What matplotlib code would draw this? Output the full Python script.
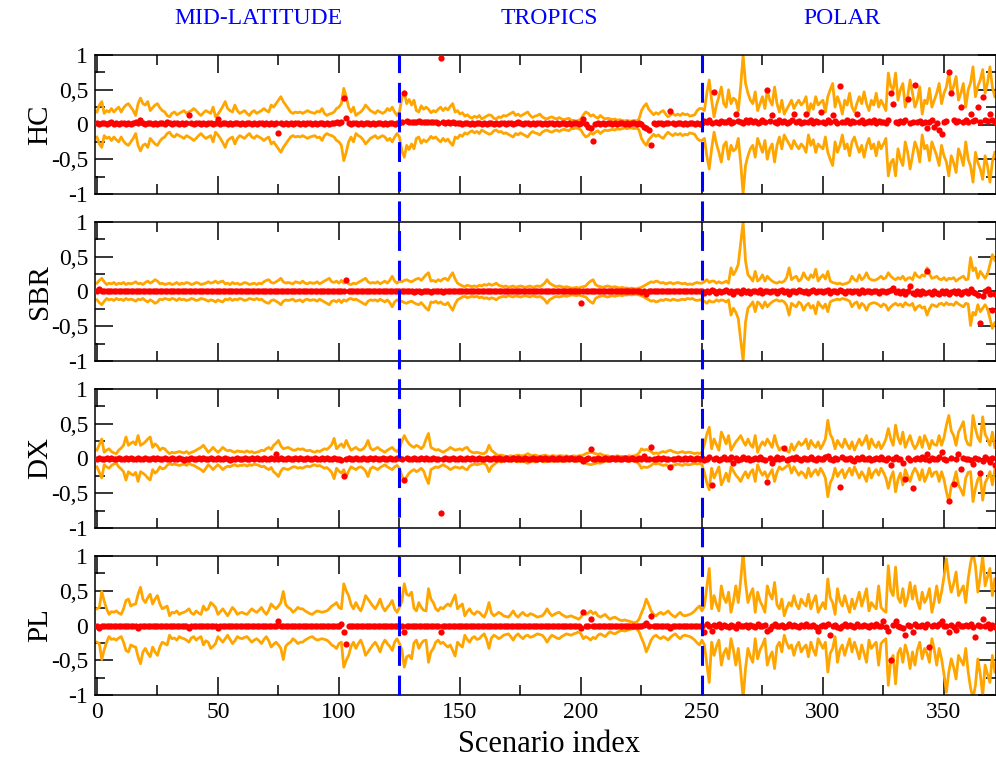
import matplotlib
matplotlib.use("Agg")
import matplotlib.pyplot as plt
import numpy as np
from matplotlib.lines import Line2D
from matplotlib.transforms import blended_transform_factory
from matplotlib.ticker import MultipleLocator, FixedLocator

plt.rcParams['font.family'] = ['Liberation Serif', 'DejaVu Serif']

# Region names, where their labels sit, and the indices that separate them
REGIONS = ["MID-LATITUDE", "TROPICS", "POLAR"]
REGION_LABEL_X = [66.5, 187, 308]
REGION_BOUNDS = [125, 250]

PANELS = ["HC", "SBR", "DX", "PL"]

# Spread (upper envelope, lower envelope is its mirror), in hundredths
HC_SPREAD = [
    18,28,33,16,20,18,23,18,22,25, 18,24,28,30,25,20,13,30,38,30,
    28,33,20,24,28,30,24,20,18,13, 11,16,18,14,16,18,20,16,18,20,
    23,20,16,13,17,20,18,16,25,11, 15,20,26,33,23,20,18,28,20,16,
    18,20,16,13,18,20,16,18,20,23, 20,18,28,25,30,35,40,33,28,23,
    18,16,18,17,18,16,18,20,18,17, 16,19,18,23,16,13,15,16,18,23,
    25,30,52,40,25,18,25,13,16,18, 22,28,24,20,18,16,20,18,16,18,
    23,20,25,18,13,
    18,38,47,30,36,
    28,35,20,18,27,22,25,22,17,20, 18,22,25,20,24,21,26,30,18,20,
    15,17,12,14,11,9,12,10,13,8, 10,12,14,13,9,8,11,10,13,12,
    14,16,18,13,15,12,14,16,18,13, 10,12,13,15,11,9,8,10,11,9,
    8,10,8,7,8,9,6,6,5,6, 8,14,18,16,12,14,11,9,13,10,
    8,9,8,7,8,6,7,6,5,6, 5,5,6,5,8,20,26,30,22,18,
    14,17,15,18,20,15,11,14,16,13, 15,13,16,14,15,12,13,14,20,23,
    23,20,45,64,35,11,28,40,54,30, 25,50,30,38,35,20,55,100,59,45,
    35,30,47,20,30,40,23,50,35,28, 54,30,18,35,15,22,28,35,23,30,
    35,28,32,40,15,30,22,40,28,32, 35,18,40,50,59,25,40,30,15,35,
    28,45,25,18,30,40,30,47,30,20, 35,28,45,25,35,28,20,74,55,50,
    74,35,50,59,25,40,64,45,25,35, 54,15,35,30,52,25,35,45,59,30,
    45,54,74,45,55,69,35,45,59,25, 50,60,83,40,55,64,79,45,60,83,
    54,40,
]

SBR_SPREAD = [
    12,16,19,14,10,12,11,13,10,12, 11,13,10,12,11,12,14,11,12,10,
    13,15,12,14,17,15,11,12,10,11, 12,10,11,13,10,12,11,13,12,10,
    11,13,12,10,11,12,14,12,13,15, 12,14,15,11,12,10,13,11,12,10,
    11,13,12,10,11,12,10,12,11,14, 16,17,13,12,14,16,19,14,12,13,
    12,11,14,13,12,15,12,11,13,12, 12,14,11,13,15,17,19,14,13,15,
    12,16,12,14,11,10,12,11,13,15, 17,19,14,12,13,12,14,11,13,15,
    12,16,22,15,12,
    15,14,16,17,15,
    14,16,18,19,16,20,24,27,15,16, 14,17,15,18,19,16,22,27,18,12,
    10,8,7,9,8,7,8,7,9,8, 10,9,11,9,10,12,9,8,7,8,
    6,7,8,6,7,8,7,6,7,8, 6,7,8,7,9,12,17,12,10,8,
    7,8,7,6,7,6,5,5,6,5, 6,7,8,12,15,17,10,8,7,6,
    7,8,7,6,7,6,5,6,5,5, 4,5,4,4,5,6,8,10,12,14,
    13,15,14,12,13,11,12,13,11,12, 13,12,11,12,10,11,10,12,13,12,
    12,14,17,13,15,15,12,14,12,13, 15,12,34,24,30,39,70,100,44,24,
    20,15,29,15,18,24,15,22,18,15, 13,12,14,13,15,20,34,17,20,22,
    15,18,27,20,17,24,20,32,15,20, 24,18,29,15,13,12,11,12,10,11,
    12,14,22,17,15,24,17,20,27,19, 17,16,17,19,22,18,20,27,22,19,
    17,20,18,22,16,19,20,17,27,22, 20,24,22,34,25,19,20,22,18,17,
    20,16,19,18,20,15,18,20,22,17, 18,49,30,34,19,29,24,19,25,39,
    53,45,
]

DX_SPREAD = [
    12,20,28,9,12,14,10,8,7,12, 15,19,31,19,22,24,20,33,19,21,
    24,28,31,16,21,18,12,15,14,10, 7,9,8,9,10,9,8,10,7,9,
    10,12,14,16,19,14,9,12,16,12, 9,12,16,13,11,12,10,9,11,10,
    10,9,11,9,10,8,9,10,12,11, 14,16,13,19,22,26,18,14,15,16,
    14,12,12,14,13,14,12,11,12,10, 9,11,10,12,14,13,16,20,29,14,
    18,21,16,26,18,12,14,16,13,12, 14,18,26,15,12,14,16,13,11,9,
    12,14,16,12,10,
    14,25,33,26,21,
    18,16,19,17,14,18,28,36,16,14, 12,13,11,9,11,13,16,14,12,13,
    14,12,15,16,11,9,8,9,8,7, 7,10,19,12,9,6,4,5,4,3,
    3,4,3,4,5,4,4,5,7,5, 4,5,4,3,4,5,4,3,4,4,
    3,4,4,3,4,3,3,4,3,4, 4,5,7,8,9,8,7,6,7,5,
    4,4,3,3,3,4,3,3,3,3, 4,3,4,5,8,14,12,13,12,10,
    7,8,7,9,10,9,11,12,10,9, 8,9,10,8,9,9,8,7,8,7,
    9,20,35,45,14,28,20,12,38,30, 21,33,12,18,24,28,33,25,19,28,
    20,16,33,9,18,24,19,28,22,16, 33,20,12,16,14,11,9,21,12,18,
    24,19,22,28,14,26,20,16,24,14, 20,28,55,35,28,14,26,20,16,28,
    20,14,24,12,20,28,19,25,33,14, 28,20,16,24,14,20,28,43,28,19,
    48,30,21,38,16,25,33,21,14,20, 31,16,33,25,14,26,20,19,33,19,
    30,48,62,40,33,19,38,45,53,28, 20,19,62,43,30,24,60,35,28,19,
    38,16,
]

PL_SPREAD = [
    24,26,49,35,24,16,20,19,21,18, 16,24,36,38,28,30,31,45,55,38,
    33,40,45,31,38,43,31,24,26,28, 14,19,18,21,16,18,19,21,24,18,
    16,21,18,16,28,22,24,33,30,26, 16,20,24,19,14,20,26,22,16,18,
    19,17,16,20,24,21,19,22,26,20, 16,22,31,27,24,28,33,49,30,26,
    24,19,22,26,24,24,21,19,17,16, 19,21,20,19,20,21,24,28,30,33,
    26,24,60,50,43,30,24,33,26,21, 30,43,38,33,28,24,30,38,27,21,
    26,30,36,24,19,
    26,35,60,45,43,
    48,25,21,33,26,22,21,53,38,33, 24,21,26,24,28,31,28,36,44,24,
    28,31,14,20,24,18,16,20,19,15, 12,20,33,18,14,16,19,17,14,13,
    12,16,21,15,12,16,19,15,14,17, 16,14,12,13,14,18,24,18,14,16,
    18,19,16,14,12,13,14,12,11,9, 12,19,16,18,21,17,19,14,12,14,
    16,12,9,11,12,10,8,7,8,7, 6,5,4,5,9,18,26,38,30,21,
    16,14,17,19,16,18,21,17,14,12, 16,19,15,14,15,16,18,21,25,28,
    21,28,55,82,24,43,30,21,57,40, 33,48,19,35,57,33,65,105,62,33,
    45,53,19,48,35,28,19,57,45,38, 62,30,24,38,14,25,33,28,43,30,
    24,38,32,28,45,24,35,43,19,26, 33,24,67,40,33,16,53,35,28,43,
    30,19,38,24,35,48,28,40,53,21, 33,28,24,57,26,22,19,86,50,43,
    84,40,33,53,28,40,62,38,57,35, 24,48,33,40,53,19,35,57,33,48,
    70,96,67,48,60,77,43,50,57,33, 67,90,105,86,48,70,101,57,70,82,
    43,67,
]

# Mean difference for each scenario (red dots), in hundredths
HC_BIAS = [
    2,1,2,2,1,2,3,1,2,1, 2,2,1,2,1,2,3,2,7,2,
    1,2,2,1,2,1,2,2,1,3, 2,1,2,2,1,2,1,2,14,2,
    1,2,2,1,2,1,2,2,1,2, 8,1,2,2,1,2,1,2,2,1,
    2,1,2,2,1,2,1,2,2,1, 2,1,2,1,2,-12,2,1,2,1,
    2,1,2,2,1,2,1,2,2,1, 2,1,2,2,1,2,1,2,2,3,
    2,3,38,10,2,1,2,2,1,2, 1,2,2,1,2,1,2,2,1,2,
    1,2,2,1,2,
    2,3,45,5,3,
    3,4,3,5,4,3,4,3,4,3, 3,2,95,3,2,3,2,3,2,2,
    2,1,2,2,1,2,1,2,2,1, 2,1,2,2,1,2,1,2,2,1,
    2,2,1,2,3,2,1,2,2,1, 2,1,2,2,1,2,1,2,2,1,
    2,1,2,2,1,2,1,2,2,1, 2,8,1,-3,-5,-24,1,2,1,2,
    1,2,2,1,2,1,2,2,1,2, 1,2,2,1,2,1,-4,-5,-8,-30,
    2,1,2,2,1,2,2,19,2,1, 2,2,1,2,1,2,2,1,2,1,
    2,5,3,6,2,47,4,2,5,3, 3,6,2,4,15,5,3,2,6,4,
    7,3,5,2,4,6,3,49,5,13, 4,2,6,3,5,2,4,6,15,3,
    5,2,4,15,3,6,2,5,3,18, 4,2,6,3,13,5,2,56,4,3,
    7,2,5,4,15,3,6,2,4,5, 3,6,2,5,3,4,2,6,45,30,
    4,2,5,3,6,37,2,4,57,3, 5,2,4,-5,3,6,-3,2,-8,-13,
    4,5,75,45,6,3,5,25,4,7, 3,15,5,6,25,4,40,7,5,15,
    6,4,
]

SBR_BIAS = [
    1,3,1,0,1,1,0,1,1,0, 1,1,0,1,1,0,1,1,0,1,
    1,0,1,1,0,1,0,1,1,0, 1,1,0,1,0,1,1,0,1,1,
    0,1,1,0,1,1,0,1,0,1, 1,0,1,1,0,1,1,0,1,0,
    1,1,0,1,1,0,1,0,1,1, 0,1,1,0,1,1,0,1,1,0,
    1,0,1,1,0,1,1,0,1,1, 0,1,1,0,1,0,1,1,0,1,
    1,0,1,17,1,0,1,1,0,1, 1,0,1,1,0,1,1,0,1,1,
    0,1,1,0,1,
    1,0,1,1,0,
    1,-1,0,1,-1,0,1,0,-1,1, 0,1,0,-1,1,0,1,0,1,0,
    1,0,1,1,0,1,0,1,1,0, 1,0,1,0,1,1,0,1,0,1,
    1,0,1,1,0,1,0,1,1,0, 1,1,0,1,0,1,1,0,1,0,
    1,0,1,1,0,1,0,1,1,0, -17,1,0,1,1,0,1,0,1,1,
    0,1,0,1,1,0,1,0,1,0, 1,0,1,0,1,-1,0,-3,1,0,
    1,0,1,1,0,1,0,1,1,0, 1,0,1,1,0,1,0,1,0,1,
    0,-2,1,-1,2,0,-2,1,-1,0, 2,-1,0,-3,1,0,-2,2,-1,0,
    -2,1,0,-1,2,-2,0,1,-1,0, 1,-2,0,2,-1,0,-3,1,0,-1,
    2,0,-1,1,-2,0,2,-1,0,1, -1,0,2,-2,1,0,-1,2,0,-2,
    1,0,-1,1,0,-2,2,-1,0,1, -1,1,0,-2,1,0,-1,0,2,5,
    -1,0,-2,1,-3,0,8,-2,-4,1, -3,0,-2,30,-1,-3,0,-2,-4,1,
    -2,0,-3,-1,1,-2,0,-3,-1,0, -2,3,-1,-2,-5,-46,-7,0,3,-4,
    -27,-3,
]

DX_BIAS = [
    0,1,0,0,1,0,1,0,0,1, 0,0,1,0,1,0,0,1,0,0,
    1,0,0,1,0,1,0,0,1,0, 0,1,0,0,1,0,-2,0,0,1,
    0,0,1,0,1,0,0,1,0,0, 1,0,0,1,0,-2,0,0,1,0,
    0,1,0,0,1,0,1,0,0,1, 0,0,1,0,7,0,1,0,0,1,
    0,0,1,0,1,0,0,1,0,0, 1,0,0,1,0,1,0,0,1,0,
    0,-2,-25,0,1,0,0,1,0,0, 1,0,0,1,0,1,0,0,1,0,
    0,1,0,0,1,
    1,0,-31,1,0,
    0,1,0,0,1,0,1,0,0,1, 0,0,-79,0,1,0,0,1,0,0,
    1,0,0,1,0,1,0,0,1,0, 0,1,0,0,1,0,1,0,0,1,
    0,0,1,0,1,0,0,1,0,0, 1,0,0,1,0,1,0,0,1,0,
    0,1,0,0,1,0,1,0,0,1, 0,-4,0,1,13,0,0,1,0,0,
    1,0,0,1,0,1,0,0,1,0, 0,1,0,0,1,0,4,0,0,16,
    0,0,1,0,1,0,0,-12,0,0, 1,0,0,1,0,1,0,0,1,0,
    1,-2,0,2,-38,-1,1,-2,0,2, -1,0,2,-6,1,-2,0,2,-1,1,
    -2,0,1,-1,2,0,-2,-34,1,-6, 0,2,-1,1,15,-2,0,1,-1,2,
    0,-2,1,0,-1,2,0,-2,1,0, -1,2,3,0,-2,1,0,-41,2,-1,
    0,1,-2,-3,1,0,2,-1,0,1, -2,0,1,-1,2,0,-2,1,-9,0,
    2,-1,0,-6,-29,1,-2,-42,0,1, -1,2,0,7,-2,1,0,-1,2,9,
    0,-2,-61,1,-37,0,6,-15,1,-1, 0,-2,-8,1,0,-21,-4,2,0,-5,
    1,-10,
]

PL_BIAS = [
    0,-4,-1,0,-1,0,-1,0,0,-1, 0,-1,0,0,-1,0,-1,-3,-1,0,
    -1,0,0,-1,0,-1,0,0,-1,0, -1,0,-1,0,0,-1,0,-1,-4,0,
    0,-1,0,-1,0,0,-1,0,-1,0, -3,0,-1,0,0,-1,0,-1,0,0,
    -1,0,-1,0,0,-1,0,-1,0,0, -1,0,0,-1,0,7,-1,0,-1,0,
    0,-1,0,-1,0,0,-1,0,-1,0, -1,0,0,-1,0,-1,0,0,-1,0,
    0,2,-9,-26,0,-1,0,-1,0,0, -1,0,-1,0,0,-1,0,-1,0,0,
    -1,0,0,-1,0,
    0,-1,-9,0,-1,
    0,0,-1,0,-1,0,0,-1,0,-1, 0,0,-9,0,-1,0,-1,0,0,-1,
    0,-1,0,0,-1,0,-1,0,0,-1, 0,-1,0,-1,0,0,-1,0,-1,0,
    0,-1,0,0,-1,0,-1,0,0,-1, 0,0,-1,0,-1,0,0,-1,0,-1,
    0,-1,0,0,-1,0,-1,0,0,-1, -3,20,0,-1,9,0,-1,0,0,-1,
    0,-1,0,0,-1,0,-1,0,0,-1, 0,0,-1,0,-1,0,1,4,0,13,
    0,-1,0,0,-1,0,-1,-4,0,-1, 0,-1,0,0,-1,0,-1,0,0,-1,
    0,-9,2,-1,-8,1,0,2,-2,1, 0,-2,1,0,-4,2,-1,0,1,-2,
    1,0,-2,2,0,-1,1,-8,-5,0, 2,-1,0,1,-2,0,2,-1,1,0,
    -2,1,0,2,-1,0,1,-2,-8,0, 1,-1,2,-13,0,1,-2,-3,0,2,
    -1,1,0,-2,2,0,-1,1,0,-2, 1,0,2,-1,0,7,-2,-8,-50,1,
    7,0,-2,-3,-13,1,0,-9,2,-1, 0,1,-2,2,-31,0,1,-1,2,6,
    -1,0,-9,1,-2,-7,2,0,-1,1, 0,2,-2,-16,1,-1,10,0,2,-3,
    1,-2,
]

SPREADS = [HC_SPREAD, SBR_SPREAD, DX_SPREAD, PL_SPREAD]
BIASES = [HC_BIAS, SBR_BIAS, DX_BIAS, PL_BIAS]

Y_TICKS = [-1, -0.5, 0, 0.5, 1]
Y_TICK_LABELS = ["-1", "-0,5", "0", "0,5", "1"]
X_TICKS = [0, 50, 100, 150, 200, 250, 300, 350]

for s, b in zip(SPREADS, BIASES):
    assert len(s) == 372 and len(b) == 372, (len(s), len(b))

W, H = 996, 760
fig = plt.figure(figsize=(W / 100, H / 100), dpi=100)

ax_left, ax_right = 95, 996
ax_tops = [55, 222, 389, 556]
ax_h = 139

axes = []
for i, name in enumerate(PANELS):
    top = ax_tops[i]
    ax = fig.add_axes([ax_left / W, 1 - (top + ax_h) / H,
                       (ax_right - ax_left) / W, ax_h / H])
    axes.append(ax)
    spread = np.array(SPREADS[i]) / 100.0
    bias = np.array(BIASES[i]) / 100.0
    idx = np.arange(len(spread))
    ax.plot(idx, spread, color="orange", lw=2.0, zorder=2)
    ax.plot(idx, -spread, color="orange", lw=2.0, zorder=2)
    ax.plot(idx, bias, "o", color="red", ms=4.5, mec="none", zorder=3)

    ax.set_xlim(-0.8, 371.5)
    ax.set_ylim(-1, 1)
    ax.set_yticks(Y_TICKS)
    ax.set_yticklabels(Y_TICK_LABELS)
    ax.yaxis.set_minor_locator(FixedLocator([-0.75, -0.25, 0.25, 0.75]))
    ax.set_xticks(X_TICKS)
    ax.xaxis.set_minor_locator(MultipleLocator(25))
    ax.tick_params(which="both", direction="in", top=True, right=True,
                   width=1.1, labelsize=17, pad=5)
    ax.tick_params(which="major", length=13)
    ax.tick_params(which="minor", length=7)
    if i < len(PANELS) - 1:
        ax.tick_params(labelbottom=False)
    for sp in ax.spines.values():
        sp.set_linewidth(1.1)
    fig.text(40 / W, 1 - (top + ax_h / 2) / H, name, rotation=90,
             ha="center", va="center", fontsize=21)

fig.text(549 / W, 1 - 745 / H, "Scenario index", ha="center", va="center",
         fontsize=22)

# Region names above the top panel
title_tr = blended_transform_factory(axes[0].transData, fig.transFigure)
for xc, label in zip(REGION_LABEL_X, REGIONS):
    fig.text(xc, 1 - 18 / H, label, transform=title_tr, ha="center",
             va="center", fontsize=17, color="blue")

# Dashed region separators running through all panels
sep_tr = blended_transform_factory(axes[0].transData, fig.transFigure)
y_top = 1 - ax_tops[0] / H
y_bot = 1 - (ax_tops[-1] + ax_h) / H
for xb in REGION_BOUNDS:
    fig.add_artist(Line2D([xb, xb], [y_bot, y_top], transform=sep_tr,
                          color="blue", lw=2.2, ls=(0, (6.5, 3.2)), zorder=5))

fig.savefig("out.png", dpi=100)
